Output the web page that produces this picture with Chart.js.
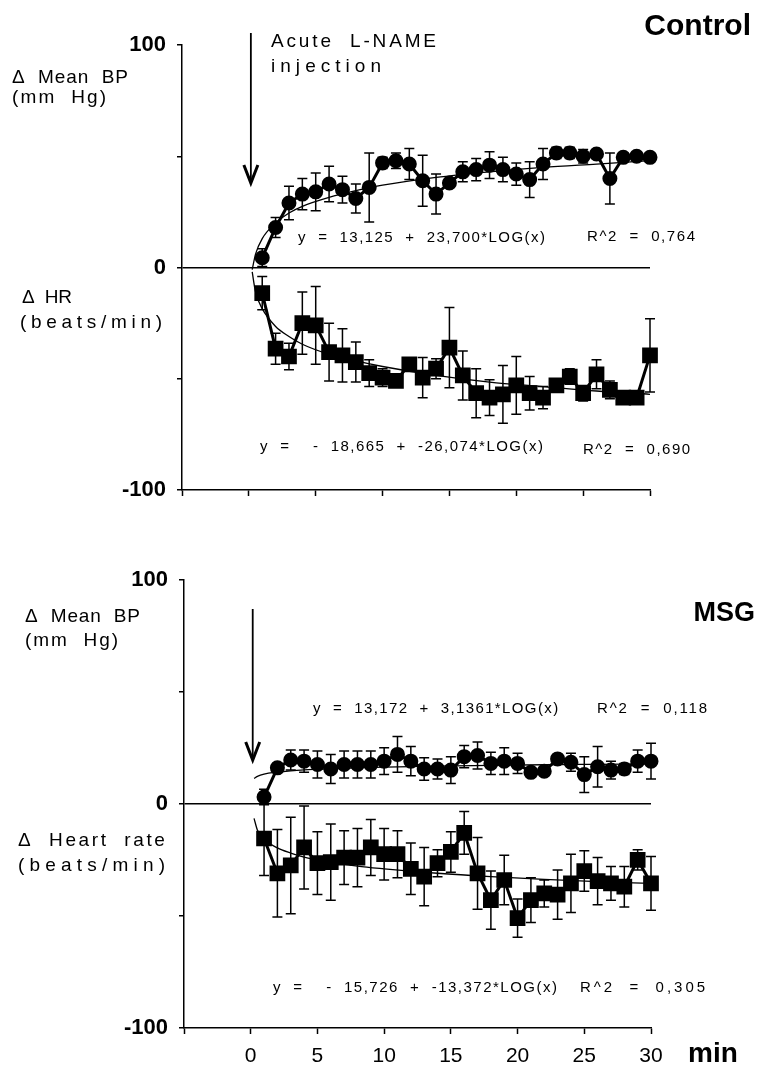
<!DOCTYPE html>
<html>
<head>
<meta charset="utf-8">
<script src="https://cdn.jsdelivr.net/npm/chart.js@4.4.1/dist/chart.umd.min.js"></script>
<style>
  body { margin: 0; background: #fff; }
  #wrap { position: relative; width: 758px; height: 1065px; }
  canvas { position: absolute; left: 0; }
  #controlChart { top: 0; }
  #msgChart { top: 530px; }
</style>
</head>
<body>
<div id="wrap">
  <canvas id="controlChart" width="758" height="520"></canvas>
  <canvas id="msgChart" width="758" height="535"></canvas>
</div>
<script>
// minutes after the injection
const minutes = [1, 2, 3, 4, 5, 6, 7, 8, 9, 10, 11, 12, 13, 14, 15, 16, 17, 18, 19, 20, 21, 22, 23, 24, 25, 26, 27, 28, 29, 30];

// Control: delta mean BP (mm Hg) and SEM
const ctrlBp = [4.4, 18, 29, 33, 34, 37.5, 35, 31, 36, 47, 48, 46.5, 39, 33, 38, 43, 44, 46, 44, 42, 39.5, 46.5, 51.5, 51.5, 50, 51, 40, 49.5, 50, 49.5];
const ctrlBpErr = [4, 4.5, 7.5, 7, 8.5, 8, 6, 6.5, 15.5, 2.5, 3.5, 7, 11.5, 9, 1.5, 4.5, 5, 6, 5.5, 5, 8, 7, 2.5, 2.5, 3, 1, 11.5, 2, 1, 1];
// Control: delta HR (beats/min) and SEM
const ctrlHr = [-11.5, -36.5, -40, -25, -26, -38, -39.5, -42.5, -47.5, -49.5, -51, -43.5, -49.5, -45.5, -36, -48.5, -56.5, -58.5, -57, -53, -56.5, -58.5, -53, -49, -56.5, -48, -55, -58.5, -58.5, -39.5];
const ctrlHrErr = [7.5, 7, 6, 14, 17.5, 13, 12, 9, 6, 4, 1.5, 1, 9, 4.5, 18, 11, 11, 8, 13, 13, 7.5, 5, 1, 3.5, 3.5, 6.5, 4, 1, 3, 16.5];

// MSG: delta mean BP and SEM
const msgBp = [3, 16, 19.5, 19, 17.5, 15.5, 17.5, 17.5, 17.5, 19, 22, 19, 15.5, 15.5, 15, 21, 21.5, 18, 19, 18, 14, 14.5, 20, 18.5, 13, 16.5, 15, 15.5, 19, 19];
const msgBpErr = [3.5, 2, 4.5, 5, 6, 6.5, 6, 6, 6, 6, 8, 6.5, 5, 4.5, 6, 5, 6, 5, 6, 4.5, 1, 1, 1, 4, 8, 9, 4, 2.5, 5, 8];
// MSG: delta heart rate and SEM
const msgHr = [-15.5, -31, -27.5, -19.5, -26.5, -26, -24, -24, -19.5, -22.5, -22.5, -29, -32.5, -26.5, -21.5, -13, -31, -43, -34, -51, -43, -40, -40.5, -35.5, -30, -34.5, -35.5, -37, -25, -35.5];
const msgHrErr = [16.5, 19.5, 21.5, 18.5, 14, 17, 12, 13, 12.5, 11.5, 10.5, 11.5, 13, 6, 9, 9.5, 16, 13, 11, 8.5, 10, 6, 11, 13, 9, 10.5, 7.5, 9, 4.5, 12];

// logarithmic trend lines
const fitMinutes = [0.25, 0.5, 1, 2, 3, 4, 6, 8, 10, 14, 18, 22, 26, 30];
const ctrlBpFit = [-1, 6, 13, 20, 24.5, 27.5, 31.5, 34.5, 37, 40.5, 43, 45, 46.5, 48];
const ctrlHrFit = [-2, -11, -18.5, -26.5, -31, -34.5, -39, -42, -44.5, -48.5, -51.5, -53.5, -55.5, -57];
const msgBpFit = [11.3, 12.2, 13.2, 14.1, 14.7, 15.1, 15.6, 16, 16.3, 16.8, 17.1, 17.4, 17.6, 17.8];
const msgHrFit = [-6.5, -11.7, -15.7, -19.7, -22, -23.8, -26, -27.8, -29, -31, -32.5, -33.7, -34.7, -35.5];

// axis ticks
const xTickValues = [-5, 0, 5, 10, 15, 20, 25, 30];
const yTickLabels = [-100, 0, 100];

const FONT = '"Liberation Sans", Arial, Helvetica, sans-serif';

document.addEventListener('DOMContentLoaded', function() {

    // turn two arrays into {x, y} points
    function pairs(xs, ys) {
        return xs.map(function(x, i) { return { x: x, y: ys[i] }; });
    }

    // draw text stretched over a given width by letter spacing
    function spacedText(ctx, text, x, y, width) {
        ctx.letterSpacing = '0px';
        const natural = ctx.measureText(text).width;
        const gap = (width - natural) / Math.max(text.length - 1, 1);
        ctx.letterSpacing = gap.toFixed(2) + 'px';
        ctx.fillText(text, x, y);
        ctx.letterSpacing = '0px';
    }

    // SEM bars under the markers
    const errorBars = {
        id: 'errorBars',
        beforeDatasetsDraw(chart) {
            const ctx = chart.ctx;
            const xs = chart.scales.x;
            const ys = chart.scales.y;
            ctx.save();
            ctx.strokeStyle = '#000';
            ctx.lineWidth = 1.5;
            chart.data.datasets.forEach(function(ds) {
                if (!ds.errors) return;
                ds.data.forEach(function(p, i) {
                    const e = ds.errors[i];
                    const px = xs.getPixelForValue(p.x);
                    const top = ys.getPixelForValue(p.y + e);
                    const bottom = ys.getPixelForValue(p.y - e);
                    ctx.beginPath();
                    ctx.moveTo(px, top);
                    ctx.lineTo(px, bottom);
                    ctx.moveTo(px - 5, top);
                    ctx.lineTo(px + 5, top);
                    ctx.moveTo(px - 5, bottom);
                    ctx.lineTo(px + 5, bottom);
                    ctx.stroke();
                });
            });
            ctx.restore();
        }
    };

    // text labels and the injection arrow
    const annotations = {
        id: 'annotations',
        afterDraw(chart) {
            const opts = chart.options.plugins.annotations;
            const ctx = chart.ctx;
            ctx.save();
            ctx.fillStyle = '#000';
            ctx.textBaseline = 'alphabetic';
            opts.texts.forEach(function(t) {
                ctx.font = t.font + ' ' + FONT;
                ctx.textAlign = t.align || 'left';
                if (t.width) {
                    spacedText(ctx, t.text, t.x, t.y, t.width);
                } else {
                    ctx.fillText(t.text, t.x, t.y, t.maxWidth || undefined);
                }
            });

            // arrow at time zero
            const a = opts.arrow;
            const ax = chart.scales.x.getPixelForValue(0) + 2;
            ctx.strokeStyle = '#000';
            ctx.lineWidth = 1.8;
            ctx.beginPath();
            ctx.moveTo(ax, a.from);
            ctx.lineTo(ax, a.to);
            ctx.stroke();
            ctx.lineWidth = 3;
            ctx.beginPath();
            ctx.moveTo(ax - 7, a.to - 18);
            ctx.lineTo(ax, a.to);
            ctx.lineTo(ax + 7, a.to - 18);
            ctx.stroke();
            ctx.restore();
        }
    };

    function makePanel(canvasId, p) {
        const ctx = document.getElementById(canvasId).getContext('2d');
        return new Chart(ctx, {
            type: 'line',
            data: {
                datasets: [
                    {
                        data: pairs(fitMinutes, p.bpFit),
                        borderColor: '#000',
                        borderWidth: 1.3,
                        pointRadius: 0,
                        cubicInterpolationMode: 'monotone',
                        clip: false
                    },
                    {
                        data: pairs(fitMinutes, p.hrFit),
                        borderColor: '#000',
                        borderWidth: 1.3,
                        pointRadius: 0,
                        cubicInterpolationMode: 'monotone',
                        clip: false
                    },
                    {
                        data: pairs(minutes, p.bp),
                        errors: p.bpErr,
                        borderColor: '#000',
                        borderWidth: 3,
                        pointStyle: 'circle',
                        pointRadius: 6,
                        pointBackgroundColor: '#000',
                        pointBorderColor: '#000',
                        clip: false
                    },
                    {
                        data: pairs(minutes, p.hr),
                        errors: p.hrErr,
                        borderColor: '#000',
                        borderWidth: 3,
                        pointStyle: 'rect',
                        pointRadius: 9,
                        pointBackgroundColor: '#000',
                        pointBorderColor: '#000',
                        clip: false
                    }
                ]
            },
            options: {
                responsive: false,
                animation: false,
                devicePixelRatio: 1,
                layout: { padding: { left: 0, right: p.padRight, top: p.padTop, bottom: 0 } },
                plugins: {
                    legend: { display: false },
                    tooltip: { enabled: false },
                    annotations: { texts: p.texts, arrow: p.arrow }
                },
                scales: {
                    x: {
                        type: 'linear',
                        min: -5,
                        max: 30,
                        afterBuildTicks: function(scale) {
                            scale.ticks = xTickValues.map(function(v) { return { value: v }; });
                        },
                        afterFit: function(scale) { scale.height = p.xHeight; },
                        border: { display: true, color: '#000', width: 1.5 },
                        grid: { drawOnChartArea: false, tickLength: 6, tickColor: '#000', tickWidth: 1.5 },
                        ticks: {
                            display: p.showX,
                            padding: 10,
                            maxRotation: 0,
                            color: '#000',
                            font: { family: FONT, size: 21 },
                            callback: function(v) { return v < 0 ? '' : String(v); }
                        }
                    },
                    y: {
                        min: -100,
                        max: 100,
                        afterBuildTicks: function(scale) {
                            scale.ticks = [-100, -50, 0, 50, 100].map(function(v) { return { value: v }; });
                        },
                        afterFit: function(scale) { scale.width = p.yWidth; },
                        border: { display: true, color: '#000', width: 1.5 },
                        grid: {
                            drawOnChartArea: true,
                            color: function(c) { return c.tick && c.tick.value === 0 ? '#000' : 'rgba(0,0,0,0)'; },
                            lineWidth: 1.5,
                            tickLength: 5,
                            tickColor: '#000',
                            tickWidth: 1.5
                        },
                        ticks: {
                            padding: 11,
                            color: '#000',
                            font: { family: FONT, size: 22, weight: 'bold' },
                            callback: function(v) { return yTickLabels.includes(v) ? String(v) : ''; }
                        }
                    }
                }
            },
            plugins: [errorBars, annotations]
        });
    }

    // Control panel
    makePanel('controlChart', {
        bp: ctrlBp, bpErr: ctrlBpErr, hr: ctrlHr, hrErr: ctrlHrErr,
        bpFit: ctrlBpFit, hrFit: ctrlHrFit,
        yWidth: 182, padTop: 45, padRight: 108, xHeight: 30, showX: false,
        arrow: { from: 33, to: 183 },
        texts: [
            { text: 'Control', x: 751, y: 35, font: 'bold 30px', align: 'right' },
            { text: 'Acute  L-NAME', x: 271, y: 47, font: '19px', width: 165 },
            { text: 'injection', x: 271, y: 72, font: '19px', width: 110 },
            { text: '\u0394  Mean  BP', x: 12, y: 83, font: '19px', width: 116 },
            { text: '(mm  Hg)', x: 12, y: 103, font: '19px', width: 94 },
            { text: '\u0394  HR', x: 22, y: 303, font: '19px', width: 50 },
            { text: '(beats/min)', x: 20, y: 328, font: '19px', width: 142 },
            { text: 'y  =  13,125  +  23,700*LOG(x)', x: 298, y: 242, font: '15px', width: 247 },
            { text: 'R^2  =  0,764', x: 587, y: 241, font: '15px', width: 108 },
            { text: 'y  =    -  18,665  +  -26,074*LOG(x)', x: 260, y: 451, font: '15px', width: 283 },
            { text: 'R^2  =  0,690', x: 583, y: 454, font: '15px', width: 107 }
        ]
    });

    // MSG panel
    makePanel('msgChart', {
        bp: msgBp, bpErr: msgBpErr, hr: msgHr, hrErr: msgHrErr,
        bpFit: msgBpFit, hrFit: msgHrFit,
        yWidth: 184, padTop: 49.5, padRight: 107, xHeight: 37, showX: true,
        arrow: { from: 79, to: 230 },
        texts: [
            { text: 'MSG', x: 755, y: 91, font: 'bold 27px', align: 'right', maxWidth: 66 },
            { text: '\u0394  Mean  BP', x: 25, y: 92, font: '19px', width: 115 },
            { text: '(mm  Hg)', x: 25, y: 116, font: '19px', width: 93 },
            { text: '\u0394  Heart  rate', x: 18, y: 316, font: '19px', width: 147 },
            { text: '(beats/min)', x: 18, y: 341, font: '19px', width: 147 },
            { text: 'y  =  13,172  +  3,1361*LOG(x)', x: 313, y: 183, font: '15px', width: 245 },
            { text: 'R^2  =  0,118', x: 597, y: 183, font: '15px', width: 110 },
            { text: 'y  =    -  15,726  +  -13,372*LOG(x)', x: 273, y: 462, font: '15px', width: 284 },
            { text: 'R^2  =  0,305', x: 580, y: 462, font: '15px', width: 125 },
            { text: 'min', x: 688, y: 532, font: 'bold 28px' }
        ]
    });
});
</script>
</body>
</html>
